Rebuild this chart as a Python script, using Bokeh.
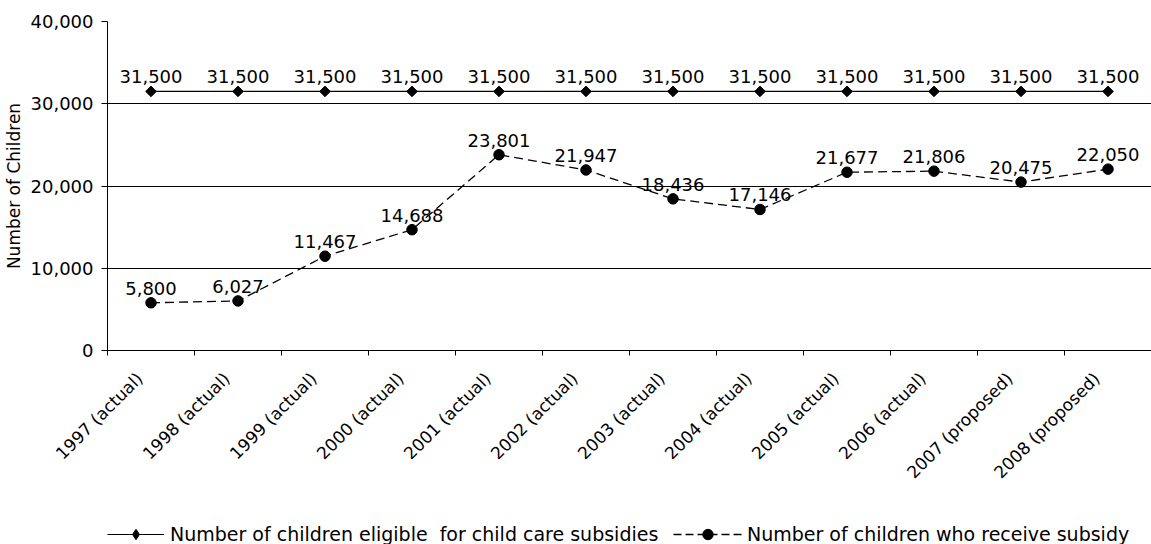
import math
from bokeh.plotting import figure
from bokeh.layouts import column
from bokeh.models import (ColumnDataSource, FixedTicker, Range1d, Legend, LegendItem,
                          LabelSet, NumeralTickFormatter)
from bokeh.core.properties import value
from bokeh.embed import file_html
from bokeh.resources import INLINE

categories = ["1997 (actual)", "1998 (actual)", "1999 (actual)", "2000 (actual)",
              "2001 (actual)", "2002 (actual)", "2003 (actual)", "2004 (actual)",
              "2005 (actual)", "2006 (actual)", "2007 (proposed)", "2008 (proposed)"]
eligible = [31500] * 12
received = [5800, 6027, 11467, 14688, 23801, 21947, 18436, 17146, 21677, 21806, 20475, 22050]
series_names = ["Number of children eligible  for child care subsidies",
                "Number of children who receive subsidy"]
y_ticks = [0, 10000, 20000, 30000, 40000]

FONT = "DejaVu Sans"
FS_NUM = "18px"
FS_CAT = "17px"
FS_LEG = "19px"

xs = [i + 0.5 for i in range(len(categories))]
label_ticks = [x - 0.13 for x in xs]
src = ColumnDataSource(dict(
    x=xs, elig=eligible, rec=received,
    elig_lbl=[f"{v:,}" for v in eligible],
    rec_lbl=[f"{v:,}" for v in received],
))

p = figure(frame_width=1044, frame_height=329, output_backend="svg", toolbar_location=None,
           x_range=Range1d(0, len(categories)), y_range=Range1d(0, 40000),
           min_border_left=107, min_border_top=21, min_border_right=0, min_border_bottom=170)
p.outline_line_color = None
p.background_fill_color = "white"
p.border_fill_color = "white"

# grid
p.xgrid.visible = False
p.ygrid.ticker = FixedTicker(ticks=y_ticks)
p.ygrid.grid_line_color = "black"
p.ygrid.grid_line_width = 1

# y axis
p.yaxis.ticker = FixedTicker(ticks=y_ticks)
p.yaxis.formatter = NumeralTickFormatter(format="0,0")
p.yaxis.axis_label = "Number of Children"
p.yaxis.axis_label_text_font = FONT
p.yaxis.axis_label_text_font_size = FS_CAT
p.yaxis.axis_label_text_font_style = "normal"
p.yaxis.axis_label_text_color = "black"
p.yaxis.axis_label_standoff = 4
p.yaxis.major_label_text_font = FONT
p.yaxis.major_label_text_font_size = FS_NUM
p.yaxis.major_label_text_color = "black"
p.yaxis.major_label_standoff = 8
p.yaxis.axis_line_color = "black"
p.yaxis.major_tick_line_color = "black"
p.yaxis.major_tick_out = 6
p.yaxis.major_tick_in = 0
p.yaxis.minor_tick_line_color = None

# x axis
p.xaxis.ticker = FixedTicker(ticks=label_ticks, minor_ticks=list(range(len(categories) + 1)))
p.xaxis.major_label_overrides = {t: c for t, c in zip(label_ticks, categories)}
p.xaxis.major_label_orientation = math.pi / 4
p.xaxis.major_label_text_font = FONT
p.xaxis.major_label_text_font_size = FS_CAT
p.xaxis.major_label_text_color = "black"
p.xaxis.major_label_standoff = 20
p.xaxis.major_tick_line_color = None
p.xaxis.major_tick_out = 0
p.xaxis.minor_tick_line_color = "black"
p.xaxis.minor_tick_out = 5
p.xaxis.minor_tick_in = 0
p.xaxis.axis_line_color = "black"

# series
p.line("x", "elig", source=src, line_color="black", line_width=1.2)
p.scatter("x", "elig", source=src, marker="square", angle=math.pi / 4, size=7.5, color="black")
p.line("x", "rec", source=src, line_color="black", line_width=1.3, line_dash="9 5")
p.scatter("x", "rec", source=src, marker="circle", size=10.5, color="black")

for col, lbl in (("elig", "elig_lbl"), ("rec", "rec_lbl")):
    p.add_layout(LabelSet(x="x", y=col, text=lbl, source=src, text_align="center",
                          text_baseline="alphabetic", y_offset=8, text_font=value(FONT),
                          text_font_size=FS_NUM, text_color="black"))

# legend strip below the chart (legend-only renderers, placed outside the visible range)
leg_fig = figure(width=1151, height=28, output_backend="svg", toolbar_location=None,
                 x_range=Range1d(0, 1), y_range=Range1d(0, 1),
                 x_axis_location=None, y_axis_location=None,
                 min_border=0, min_border_left=0, min_border_right=0,
                 min_border_top=0, min_border_bottom=0)
leg_fig.outline_line_color = None
leg_fig.grid.visible = False
dummy = ColumnDataSource(dict(x=[-10.0], elig=[-10.0], rec=[-10.0]))
l1 = leg_fig.line("x", "elig", source=dummy, line_color="black", line_width=1.2)
s1 = leg_fig.scatter("x", "elig", source=dummy, marker="diamond", color="black")
l2 = leg_fig.line("x", "rec", source=dummy, line_color="black", line_width=1.3, line_dash="8 4")
s2 = leg_fig.scatter("x", "rec", source=dummy, marker="circle", color="black")

common = dict(orientation="horizontal", label_text_font=FONT, label_text_font_size=FS_LEG,
              label_text_color="black", padding=0, border_line_color=None,
              background_fill_alpha=0, margin=0)
legend1 = Legend(items=[LegendItem(label=series_names[0], renderers=[l1, s1])],
                 location=(0, 1), glyph_width=57, glyph_height=26, label_standoff=6, **common)
legend2 = Legend(items=[LegendItem(label=series_names[1], renderers=[l2, s2])],
                 location=(566, 1), glyph_width=69, glyph_height=26, label_standoff=5, **common)
leg_fig.add_layout(legend1, "center")
leg_fig.add_layout(legend2, "center")

layout = column(p, leg_fig, spacing=0)
open("out.html", "w").write(file_html(layout, INLINE))
